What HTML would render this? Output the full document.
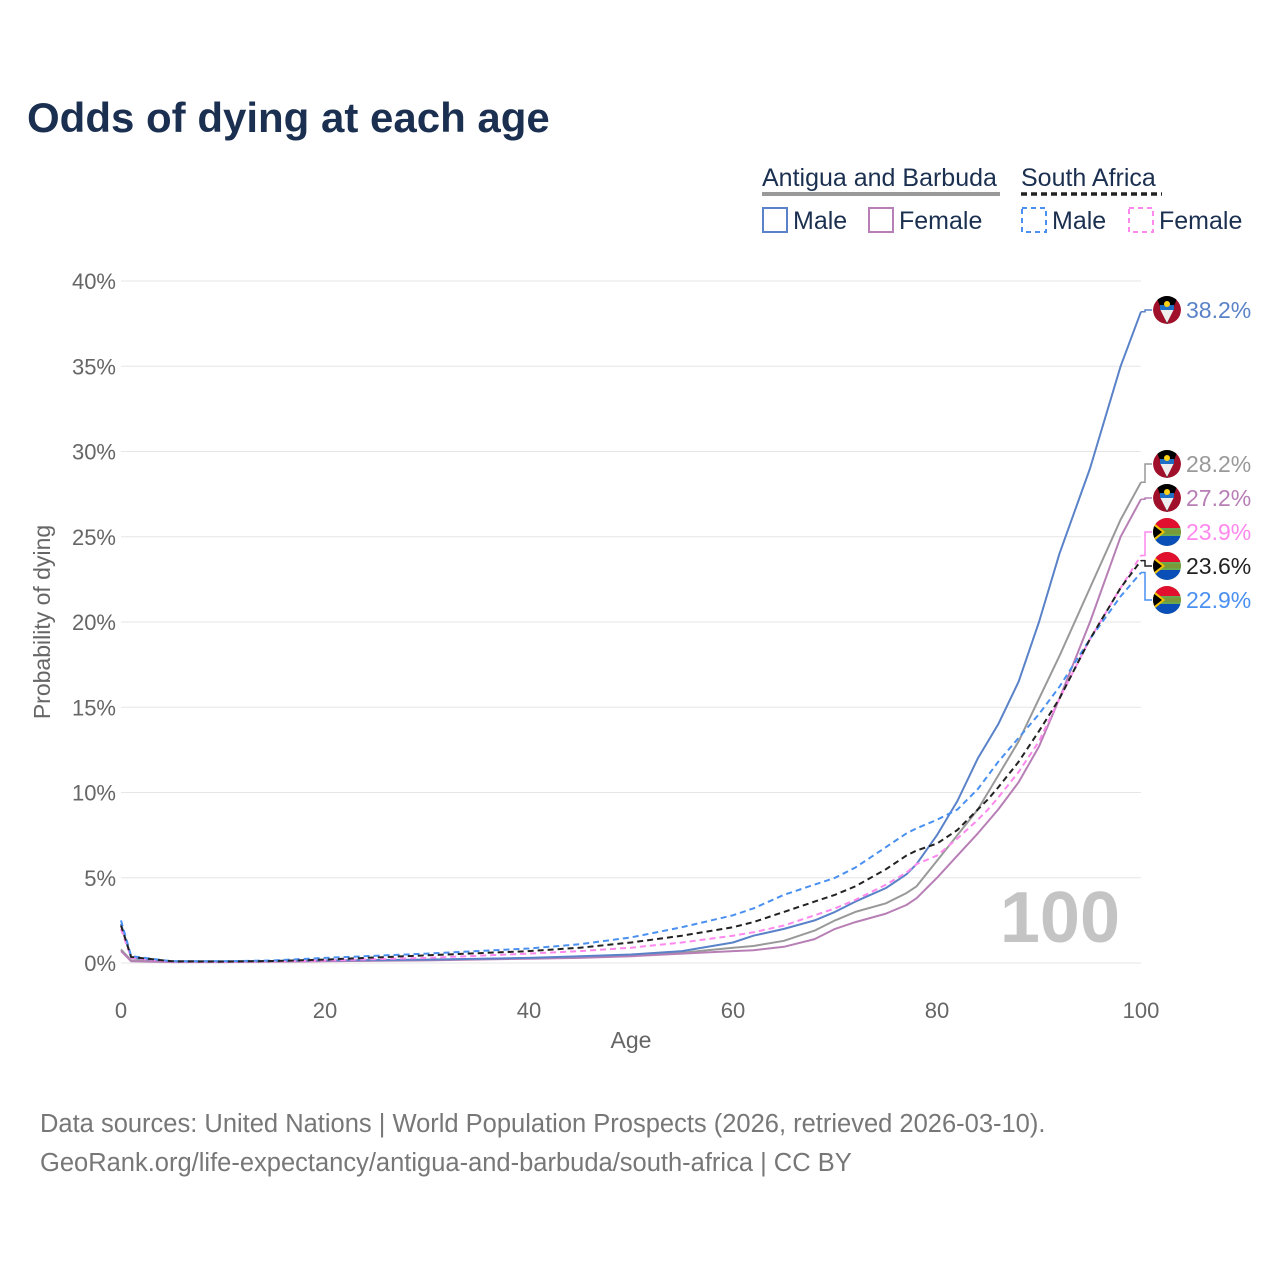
<!DOCTYPE html>
<html><head><meta charset="utf-8"><style>
body{margin:0;background:#fff;font-family:"Liberation Sans",sans-serif}
svg{display:block}
</style></head><body>
<svg id="chart" width="1280" height="1280" viewBox="0 0 1280 1280" xmlns="http://www.w3.org/2000/svg" font-family="Liberation Sans, sans-serif">
<defs><clipPath id="circ"><circle r="14"/></clipPath></defs>
<text x="27" y="132" font-size="42" font-weight="bold" fill="#1b3050">Odds of dying at each age</text>
<g font-size="25" fill="#1b3050">
<text x="762" y="186">Antigua and Barbuda</text>
<line x1="762" y1="194" x2="1000" y2="194" stroke="#999" stroke-width="4"/>
<text x="1021" y="186">South Africa</text>
<line x1="1021" y1="194" x2="1162" y2="194" stroke="#222" stroke-width="3.5" stroke-dasharray="6,4"/>
<rect x="763" y="208" width="24" height="24" fill="none" stroke="#5a82c8" stroke-width="2"/>
<text x="793" y="229">Male</text>
<rect x="869" y="208" width="24" height="24" fill="none" stroke="#b77fb5" stroke-width="2"/>
<text x="899" y="229">Female</text>
<rect x="1022" y="208" width="24" height="24" fill="none" stroke="#4a90f0" stroke-width="2" stroke-dasharray="5,4"/>
<text x="1052" y="229">Male</text>
<rect x="1129" y="208" width="24" height="24" fill="none" stroke="#ff88ee" stroke-width="2" stroke-dasharray="5,4"/>
<text x="1159" y="229">Female</text>
</g>
<g id="grid"></g><g id="series"></g><g id="labels"></g>
<text x="1120" y="942" font-size="72" font-weight="bold" fill="#c4c4c4" text-anchor="end">100</text>
<text transform="translate(50,622) rotate(-90)" font-size="23" fill="#666" text-anchor="middle">Probability of dying</text>
<text x="631" y="1048" font-size="23" fill="#666" text-anchor="middle">Age</text>
<text x="40" y="1132" font-size="25.5" fill="#777">Data sources: United Nations | World Population Prospects (2026, retrieved 2026-03-10).</text>
<text x="40" y="1171" font-size="25.5" fill="#777">GeoRank.org/life-expectancy/antigua-and-barbuda/south-africa | CC BY</text>
</svg>
<script>
const ages=[0,1,5,10,15,20,30,40,45,50,55,60,62,65,68,70,72,75,77,78,80,82,84,85,86,88,90,92,95,98,100];
const abMale=[2.3,0.3,0.1,0.1,0.12,0.15,0.2,0.3,0.4,0.5,0.7,1.2,1.6,2.0,2.5,3.0,3.6,4.4,5.2,5.8,7.5,9.5,12.0,13.0,14.0,16.5,20,24,29,35,38.2];
const abFemale=[0.7,0.1,0.05,0.05,0.07,0.1,0.15,0.25,0.3,0.4,0.55,0.7,0.75,0.95,1.4,2.0,2.4,2.9,3.4,3.8,5.0,6.3,7.6,8.3,9.0,10.6,12.7,15.5,20,25,27.2];
const abTotal=[0.8,0.15,0.07,0.07,0.1,0.12,0.18,0.28,0.35,0.45,0.6,0.9,1.0,1.3,1.9,2.5,3.0,3.5,4.1,4.5,6.0,7.5,9.0,10.0,11.0,13.0,15.5,18,22,26,28.2];
const saMale=[2.5,0.4,0.1,0.1,0.15,0.3,0.55,0.85,1.1,1.5,2.1,2.8,3.2,4.0,4.6,5.0,5.6,6.8,7.6,7.9,8.4,9.0,10.2,11.0,11.8,13.2,14.6,16.2,19,21.5,22.9];
const saFemale=[2.0,0.3,0.08,0.06,0.1,0.15,0.3,0.55,0.7,0.9,1.2,1.6,1.8,2.2,2.8,3.2,3.7,4.6,5.3,5.8,6.3,7.3,8.4,9.0,9.7,11.2,13,15.5,19,22,23.9];
const saTotal=[2.2,0.35,0.1,0.08,0.12,0.2,0.45,0.7,0.9,1.2,1.6,2.1,2.4,3.0,3.6,4.0,4.5,5.5,6.3,6.6,7.0,7.8,9.0,9.6,10.3,11.8,13.6,15.5,19,22,23.6];
const yTicks=[0,5,10,15,20,25,30,35,40];
const xTicks=[0,20,40,60,80,100];
const endLabels=["38.2%","28.2%","27.2%","23.9%","23.6%","22.9%"];
const NS="http://www.w3.org/2000/svg";
const X=a=>121+a*10.2, Y=v=>963-v*17.05;
function mk(t,attrs,parent){const e=document.createElementNS(NS,t);for(const k in attrs)e.setAttribute(k,attrs[k]);parent.appendChild(e);return e;}
const grid=document.getElementById('grid');
yTicks.forEach(v=>{
 const l=mk('line',{x1:121,x2:1141,y1:Y(v),y2:Y(v),stroke:'#e6e6e6','stroke-width':1},grid);
 
 
 const t=mk('text',{x:116,y:Y(v)+8,'font-size':22,fill:'#666','text-anchor':'end'},grid);
 t.textContent=v+'%';
 
 
});
xTicks.forEach(a=>{
 const t=mk('text',{x:X(a),y:1018,'font-size':22,fill:'#666','text-anchor':'middle'},grid);
 t.textContent=a;
 
 
});
const series=[
 {d:abTotal,c:'#999',dash:'',n:'line-antigua-total'},
 {d:abFemale,c:'#b77fb5',dash:'',n:'line-antigua-female'},
 {d:abMale,c:'#5a82c8',dash:'',n:'line-antigua-male'},
 {d:saFemale,c:'#ff88ee',dash:'6,4',n:'line-south-africa-female'},
 {d:saMale,c:'#4a90f0',dash:'6,4',n:'line-south-africa-male'},
 {d:saTotal,c:'#222',dash:'6,4',n:'line-south-africa-total'}];
const sg=document.getElementById('series');
series.forEach(s=>{
 const p=mk('path',{d:'M'+ages.map((a,i)=>X(a).toFixed(1)+','+Y(s.d[i]).toFixed(1)).join('L'),fill:'none',stroke:s.c,'stroke-width':2,'stroke-dasharray':s.dash,'stroke-linejoin':'round'},sg);
 
 
});
const lab=[
 {v:abMale[abMale.length-1],c:'#5a82c8',y:310,f:'ab'},
 {v:abTotal[abTotal.length-1],c:'#999',y:464,f:'ab'},
 {v:abFemale[abFemale.length-1],c:'#b77fb5',y:498,f:'ab'},
 {v:saFemale[saFemale.length-1],c:'#ff88ee',y:532,f:'sa'},
 {v:saTotal[saTotal.length-1],c:'#222',y:566,f:'sa'},
 {v:saMale[saMale.length-1],c:'#4a90f0',y:600,f:'sa'}];
const lg=document.getElementById('labels');
lab.forEach((l,i)=>{
 const y0=Y(l.v);
 mk('path',{d:`M1141,${y0}L1145,${y0}L1145,${l.y}L1152,${l.y}`,fill:'none',stroke:l.c,'stroke-width':1.5},lg);
 const g0=mk('g',{transform:`translate(1167,${l.y})`},lg);
 const g=mk('g',{'clip-path':'url(#circ)'},g0);
 
 
 if(l.f==='ab'){
  mk('circle',{r:14,fill:'#a0102a'},g);
  mk('path',{d:'M-11,-14L11,-14L0,14Z',fill:'#000'},g);
  mk('path',{d:'M-7,-1L7,-1L0,13Z',fill:'#eee'},g);
  mk('rect',{x:-7,y:-5,width:14,height:5,fill:'#1f6fc6'},g);
  mk('circle',{cx:0,cy:-6,r:3,fill:'#fcd116'},g);
 }else{
  mk('rect',{x:-14,y:-14,width:28,height:28,fill:'#6aa84f'},g);
  mk('rect',{x:-14,y:-14,width:28,height:10,fill:'#e0102e'},g);
  mk('rect',{x:-14,y:4,width:28,height:10,fill:'#0a4fb8'},g);
  mk('rect',{x:-14,y:-2,width:28,height:4,fill:'#7a9a3a'},g);
  mk('path',{d:'M-14,-10L-2,0L-14,10Z',fill:'#f2c200'},g);
  mk('path',{d:'M-14,-7L-5,0L-14,7Z',fill:'#000'},g);
 }
 const t=mk('text',{x:1186,y:l.y+8,'font-size':23,fill:l.c},lg);
 t.textContent=endLabels[i];
 
 
});
</script>
</body></html>
